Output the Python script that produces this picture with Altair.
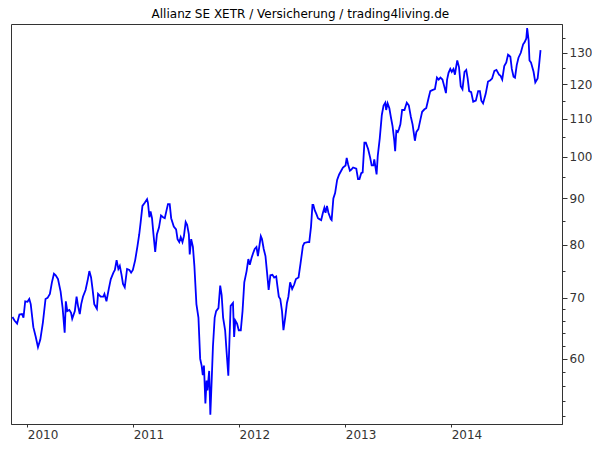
import altair as alt
import pandas as pd

# Weekly closing prices (EUR)
prices_2009 = [
    ("2009-11-11", 66.7), ("2009-11-18", 66.1), ("2009-11-27", 65.6), ("2009-12-05", 67.1),
    ("2009-12-14", 67.2), ("2009-12-19", 66.6), ("2009-12-25", 69.4),
]
prices_2010 = [
    ("2010-01-02", 69.3), ("2010-01-08", 69.8), ("2010-01-13", 68.9), ("2010-01-22", 65.0),
    ("2010-01-30", 63.5), ("2010-02-07", 61.8), ("2010-02-15", 63.0), ("2010-02-24", 65.8),
    ("2010-03-05", 69.8), ("2010-03-12", 70.0), ("2010-03-20", 70.7), ("2010-03-27", 72.8),
    ("2010-04-03", 74.4), ("2010-04-09", 74.1), ("2010-04-17", 73.4), ("2010-04-26", 71.1),
    ("2010-05-03", 68.2), ("2010-05-10", 64.1), ("2010-05-14", 69.4), ("2010-05-19", 67.7),
    ("2010-05-26", 67.9), ("2010-06-01", 67.4), ("2010-06-05", 66.4), ("2010-06-14", 67.7),
    ("2010-06-20", 70.2), ("2010-06-25", 68.6), ("2010-07-01", 67.2), ("2010-07-06", 68.9),
    ("2010-07-12", 70.2), ("2010-07-21", 71.4), ("2010-07-29", 73.4), ("2010-08-03", 74.9),
    ("2010-08-09", 73.7), ("2010-08-14", 71.6), ("2010-08-20", 68.9), ("2010-08-29", 68.1),
    ("2010-09-02", 70.7), ("2010-09-11", 70.2), ("2010-09-20", 70.2), ("2010-09-24", 70.7),
    ("2010-10-01", 69.4), ("2010-10-09", 71.6), ("2010-10-16", 73.4), ("2010-10-25", 74.6),
    ("2010-10-30", 75.1), ("2010-11-05", 77.0), ("2010-11-11", 75.3), ("2010-11-16", 75.9),
    ("2010-11-22", 74.2), ("2010-11-27", 72.5), ("2010-12-03", 71.9), ("2010-12-11", 75.3),
    ("2010-12-19", 75.1), ("2010-12-25", 74.6), ("2010-12-31", 75.1),
]
prices_2011 = [
    ("2011-01-08", 77.0), ("2011-01-16", 79.8), ("2011-01-22", 82.2), ("2011-01-27", 84.8),
    ("2011-02-02", 88.3), ("2011-02-10", 89.0), ("2011-02-18", 89.8), ("2011-02-21", 89.0),
    ("2011-02-26", 85.8), ("2011-03-02", 87.1), ("2011-03-07", 85.6), ("2011-03-12", 82.2),
    ("2011-03-18", 78.6), ("2011-03-24", 82.2), ("2011-03-31", 83.6), ("2011-04-07", 86.2),
    ("2011-04-14", 85.8), ("2011-04-20", 85.6), ("2011-04-26", 87.3), ("2011-05-01", 88.7),
    ("2011-05-07", 88.7), ("2011-05-12", 85.6), ("2011-05-21", 83.8), ("2011-05-29", 83.2),
    ("2011-06-03", 81.2), ("2011-06-09", 80.6), ("2011-06-14", 81.6), ("2011-06-20", 80.6),
    ("2011-06-25", 81.8), ("2011-07-01", 84.8), ("2011-07-06", 84.2), ("2011-07-12", 82.2),
    ("2011-07-15", 78.1), ("2011-07-20", 81.2), ("2011-07-26", 79.6), ("2011-07-31", 75.9),
    ("2011-08-07", 68.9), ("2011-08-14", 66.6), ("2011-08-20", 60.0), ("2011-08-25", 59.0),
    ("2011-08-29", 57.6), ("2011-09-02", 59.0), ("2011-09-07", 53.6), ("2011-09-11", 56.8),
    ("2011-09-14", 55.4), ("2011-09-20", 58.2), ("2011-09-24", 52.1), ("2011-09-29", 57.2),
    ("2011-10-03", 61.9), ("2011-10-09", 66.6), ("2011-10-14", 67.7), ("2011-10-22", 68.2),
    ("2011-10-28", 72.2), ("2011-11-02", 70.5), ("2011-11-07", 66.6), ("2011-11-14", 64.5),
    ("2011-11-19", 61.1), ("2011-11-25", 57.5), ("2011-11-29", 63.0), ("2011-12-03", 68.6),
    ("2011-12-11", 69.1), ("2011-12-15", 63.4), ("2011-12-19", 66.1), ("2011-12-25", 65.6),
    ("2011-12-31", 64.5),
]
prices_2012 = [
    ("2012-01-07", 64.5), ("2012-01-13", 67.7), ("2012-01-19", 72.8), ("2012-01-27", 74.9),
    ("2012-02-02", 77.2), ("2012-02-07", 76.1), ("2012-02-13", 77.4), ("2012-02-18", 78.3),
    ("2012-02-24", 79.2), ("2012-03-01", 79.6), ("2012-03-06", 77.8), ("2012-03-12", 80.2),
    ("2012-03-16", 81.8), ("2012-03-20", 81.2), ("2012-03-26", 79.2), ("2012-04-01", 77.8),
    ("2012-04-06", 74.9), ("2012-04-12", 71.4), ("2012-04-18", 74.1), ("2012-04-25", 74.2),
    ("2012-05-01", 73.7), ("2012-05-08", 73.9), ("2012-05-12", 72.2), ("2012-05-17", 70.2),
    ("2012-05-22", 69.8), ("2012-05-28", 67.7), ("2012-06-02", 64.5), ("2012-06-08", 66.6),
    ("2012-06-14", 69.1), ("2012-06-19", 70.2), ("2012-06-25", 72.8), ("2012-07-02", 71.6),
    ("2012-07-09", 72.4), ("2012-07-15", 73.4), ("2012-07-24", 73.7), ("2012-07-31", 76.4),
    ("2012-08-08", 79.8), ("2012-08-13", 80.4), ("2012-08-24", 80.6), ("2012-08-30", 80.6),
    ("2012-09-05", 83.8), ("2012-09-10", 88.5), ("2012-09-13", 88.5), ("2012-09-18", 87.3),
    ("2012-09-23", 86.6), ("2012-09-29", 85.6), ("2012-10-04", 85.4), ("2012-10-10", 85.2),
    ("2012-10-16", 86.8), ("2012-10-21", 87.9), ("2012-10-25", 86.8), ("2012-10-30", 88.3),
    ("2012-11-04", 86.8), ("2012-11-12", 85.4), ("2012-11-15", 85.2), ("2012-11-21", 90.0),
    ("2012-11-27", 91.2), ("2012-12-04", 94.3), ("2012-12-11", 95.6), ("2012-12-18", 96.5),
    ("2012-12-24", 97.3),
]
prices_2013 = [
    ("2013-01-02", 97.8), ("2013-01-06", 99.7), ("2013-01-11", 98.0), ("2013-01-17", 96.5),
    ("2013-01-22", 96.8), ("2013-01-28", 97.3), ("2013-02-08", 97.0), ("2013-02-14", 94.5),
    ("2013-02-19", 94.5), ("2013-02-25", 95.9), ("2013-03-02", 96.1), ("2013-03-08", 103.6),
    ("2013-03-13", 103.6), ("2013-03-21", 101.9), ("2013-03-28", 99.7), ("2013-04-02", 97.8),
    ("2013-04-08", 97.8), ("2013-04-11", 99.3), ("2013-04-19", 95.6), ("2013-04-23", 100.2),
    ("2013-04-30", 104.8), ("2013-05-07", 111.1), ("2013-05-13", 113.8), ("2013-05-19", 114.6),
    ("2013-05-22", 112.5), ("2013-05-27", 114.4), ("2013-06-02", 113.0), ("2013-06-07", 110.6),
    ("2013-06-13", 108.0), ("2013-06-19", 104.1), ("2013-06-22", 101.4), ("2013-06-26", 106.7),
    ("2013-07-01", 106.4), ("2013-07-05", 107.2), ("2013-07-10", 108.5), ("2013-07-16", 112.5),
    ("2013-07-24", 112.5), ("2013-08-01", 114.6), ("2013-08-08", 113.8), ("2013-08-15", 110.6),
    ("2013-08-21", 108.5), ("2013-08-29", 104.1), ("2013-09-03", 106.4), ("2013-09-10", 107.2),
    ("2013-09-17", 109.8), ("2013-09-23", 112.0), ("2013-10-01", 112.7), ("2013-10-07", 113.0),
    ("2013-10-15", 115.9), ("2013-10-21", 118.0), ("2013-10-28", 118.3), ("2013-11-06", 118.6),
    ("2013-11-13", 122.1), ("2013-11-19", 121.5), ("2013-11-25", 122.1), ("2013-12-02", 121.5),
    ("2013-12-08", 119.5), ("2013-12-14", 117.4), ("2013-12-18", 121.5), ("2013-12-23", 123.6),
    ("2013-12-29", 124.8),
]
prices_2014 = [
    ("2014-01-03", 123.9), ("2014-01-09", 124.8), ("2014-01-14", 123.0), ("2014-01-18", 125.4),
    ("2014-01-22", 127.5), ("2014-01-28", 125.4), ("2014-02-03", 119.5), ("2014-02-09", 118.6),
    ("2014-02-16", 123.9), ("2014-02-22", 124.5), ("2014-02-27", 121.8), ("2014-03-04", 118.0),
    ("2014-03-11", 117.7), ("2014-03-18", 114.9), ("2014-03-27", 115.2), ("2014-04-04", 118.0),
    ("2014-04-10", 118.0), ("2014-04-15", 115.2), ("2014-04-21", 114.4), ("2014-04-30", 117.2),
    ("2014-05-08", 120.9), ("2014-05-15", 121.2), ("2014-05-22", 121.8), ("2014-05-30", 124.2),
    ("2014-06-06", 124.5), ("2014-06-15", 123.0), ("2014-06-20", 122.7), ("2014-06-26", 121.5),
    ("2014-07-03", 125.7), ("2014-07-10", 126.9), ("2014-07-16", 129.4), ("2014-07-24", 128.7),
    ("2014-07-29", 124.8), ("2014-08-04", 122.4), ("2014-08-09", 122.1), ("2014-08-15", 126.0),
    ("2014-08-21", 128.4), ("2014-08-29", 130.0), ("2014-09-06", 132.8), ("2014-09-11", 133.5),
    ("2014-09-17", 134.8), ("2014-09-20", 138.4), ("2014-09-25", 134.1), ("2014-09-28", 127.5),
    ("2014-10-03", 126.9), ("2014-10-12", 123.9), ("2014-10-18", 120.6), ("2014-10-26", 121.8),
    ("2014-10-31", 126.0), ("2014-11-05", 130.9),
]

major_ticks = [60, 70, 80, 90, 100, 110, 120, 130]
minor_ticks = [52, 54, 56, 58, 62, 64, 66, 68, 75, 85, 95, 105, 115, 125, 135]
year_ticks = [2010, 2011, 2012, 2013, 2014]
y_domain = [50.9, 139.8]
title_text = "Allianz SE XETR / Versicherung / trading4living.de"

rows = []
for chunk in (prices_2009, prices_2010, prices_2011, prices_2012, prices_2013, prices_2014):
    rows.extend(chunk)
df = pd.DataFrame(rows, columns=["date", "close"])

x_enc = alt.X(
    "date:T",
    scale=alt.Scale(
        domain=[alt.DateTime(year=2009, month=11, date=6), alt.DateTime(year=2015, month=1, date=18)],
        nice=False,
    ),
    axis=alt.Axis(
        values=[alt.DateTime(year=y, month=1, date=1) for y in year_ticks],
        format="%Y",
        labelAlign="left",
        tickSize=3,
        labelPadding=2,
        grid=False,
        title=None,
    ),
)

base = alt.Chart(df)

line = base.mark_line(color="#0000ff", strokeWidth=1.8).encode(
    x=x_enc,
    y=alt.Y(
        "close:Q",
        scale=alt.Scale(type="log", domain=y_domain, nice=False),
        axis=alt.Axis(
            orient="right", values=major_ticks, format="d", tickSize=5,
            labelPadding=2, grid=False, title=None, offset=0,
        ),
    ),
)

minor = base.mark_line(opacity=0).encode(
    x=x_enc,
    y=alt.Y(
        "close:Q",
        scale=alt.Scale(type="log", domain=y_domain, nice=False),
        axis=alt.Axis(
            orient="right", values=minor_ticks, labels=False, domain=False,
            tickSize=3, tickWidth=1, grid=False, title=None, offset=0,
        ),
    ),
)

chart = (
    alt.layer(line, minor)
    .resolve_axis(y="independent")
    .properties(
        width=584,
        height=432,
        autosize=alt.AutoSizeParams(type="fit", contains="padding"),
        padding={"left": 0, "top": 0, "right": 0, "bottom": 0},
        title=alt.TitleParams(
            title_text, font="DejaVu Sans", fontSize=12, fontWeight="normal",
            color="#000000", anchor="middle", frame="bounds", offset=3,
        ),
    )
    .configure_view(stroke="#333333", strokeWidth=1)
    .configure_axis(
        domainColor="#333333", tickColor="#333333", labelColor="#333333",
        labelFont="DejaVu Sans", labelFontSize=12, grid=False,
    )
)

chart.save("out.html", embed_options={"renderer": "svg", "actions": False})
